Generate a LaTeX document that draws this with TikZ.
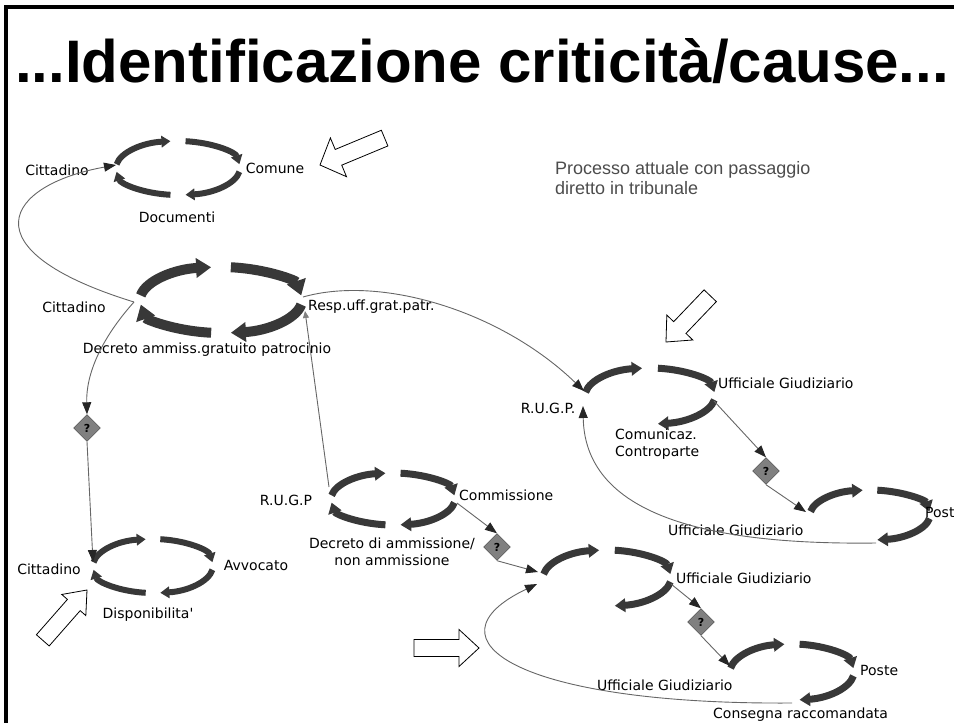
\documentclass[tikz,border=0pt]{standalone}
\usepackage{fontspec}
\setmainfont{DejaVu Sans}
\newfontfamily\titlefont{Liberation Sans}
\usetikzlibrary{positioning,arrows.meta,shapes.geometric,calc}

\begin{document}
\begin{tikzpicture}[
    x=1pt, y=1pt,
    font=\fontsize{14}{17}\selectfont,
    lab/.style={inner sep=0pt},
    cyc/.style={
        line width=#1pt,
        draw=black!78,
        -{Triangle[length=0pt 1.5, width=0pt 1.9]}
    },
    link/.style={
        draw=black!60,
        line width=0.9pt,
        -{Triangle[length=12pt, width=9pt, color=black!85]}
    },
    qbox/.style={
        diamond,
        draw=black!75,
        fill=black!50,
        minimum size=27pt,
        inner sep=0pt,
        font=\fontsize{11}{11}\selectfont\bfseries
    },
    hollow/.style={draw=black, fill=white, line width=0.8pt}
]
\useasboundingbox (0,0) rectangle (954,-723);

% frame and title
\draw[line width=3.5pt] (6,-723) -- (6,-7) -- (954,-7);
\node[lab, anchor=base west, font=\titlefont\bfseries\fontsize{60}{60}\selectfont] (title) at (15,-82)
    {...Identificazione criticità/cause...};
\node[lab, anchor=west, align=left, text=black!70, font=\titlefont\fontsize{18}{20}\selectfont] (proc) at (555,-178)
    {Processo attuale con passaggio\\diretto in tribunale};

% cycle centres
\coordinate (cycA) at (178,-168);
\coordinate (cycB) at (221,-300);
\coordinate (cycC) at (153,-566);
\coordinate (cycR) at (393,-499);
\coordinate (cycD) at (650,-396);
\coordinate (cycF) at (870,-515);
\coordinate (cycE) at (607,-578);
\coordinate (cycG) at (792,-672);

% full cycles
\foreach \c/\rx/\ry/\lw in {cycA/62/27/6, cycB/81/33/10, cycC/60/27/6, cycR/62/26/7}
  \foreach \a/\b in {172/97, 83/8, -8/-83, 263/188}
    \draw[cyc=\lw] ($(\c)+({\rx*cos(\a)},{\ry*sin(\a)})$)
        arc[start angle=\a, end angle=\b, x radius=\rx, y radius=\ry];

% open cycles
\foreach \c/\rx/\ry/\lw in {cycD/65/28/7, cycF/60/25/7, cycE/64/28/7, cycG/62/28/7}
  \foreach \a/\b in {172/97, 83/8, -8/-83}
    \draw[cyc=\lw] ($(\c)+({\rx*cos(\a)},{\ry*sin(\a)})$)
        arc[start angle=\a, end angle=\b, x radius=\rx, y radius=\ry];

% labels
\node[lab] (citA) at (57,-170) {Cittadino};
\node[lab] (comune) at (275,-168) {Comune};
\node[lab] (docum) at (177,-217) {Documenti};
\node[lab] (citB) at (74,-307) {Cittadino};
\node[lab, anchor=west] (resp) at (308,-307) {Resp.uff.grat.patr.};
\node[lab] (decrAm) at (207,-350) {Decreto ammiss.gratuito patrocinio};
\node[lab] (citC) at (49,-569) {Cittadino};
\node[lab] (avv) at (256,-565) {Avvocato};
\node[lab] (disp) at (148,-615) {Disponibilita\textquotesingle};
\node[lab] (rugpR) at (286,-500) {R.U.G.P};
\node[lab, anchor=west] (comm) at (459,-495) {Commissione};
\node[lab, align=center] (decrCo) at (392,-552) {Decreto di ammissione/\\non ammissione};
\node[lab] (rugpD) at (548,-408) {R.U.G.P.};
\node[lab, anchor=west] (ufD) at (718,-383) {Ufficiale Giudiziario};
\node[lab, anchor=north west, align=left] (comD) at (615,-429) {Comunicaz.\\Controparte};
\node[lab, anchor=west] (ufF) at (668,-530) {Ufficiale Giudiziario};
\node[lab, anchor=west] (posteF) at (925,-512) {Poste};
\node[lab, anchor=west] (ufE) at (676,-578) {Ufficiale Giudiziario};
\node[lab, anchor=west] (ufG) at (597,-685) {Ufficiale Giudiziario};
\node[lab, anchor=west] (posteG) at (860,-670) {Poste};
\node[lab, anchor=west] (consG) at (713,-715) {Consegna raccomandata};

% decisions
\node[qbox] (q1) at (87,-428) {?};
\node[qbox] (q2) at (497,-547) {?};
\node[qbox] (q3) at (766,-471) {?};
\node[qbox] (q4) at (701,-622) {?};

% attach points on the cycles
\coordinate (docIn) at (116,-165);
\coordinate (decrL) at (134,-302);
\coordinate (decrR) at (303,-297);
\coordinate (decrRb) at (305,-311);
\coordinate (dispIn) at (93,-562);
\coordinate (rugpIn) at (329,-487);
\coordinate (commOut) at (457,-503);
\coordinate (rugpDIn) at (584,-391);
\coordinate (rugpDUp) at (583,-406);
\coordinate (ugDOut) at (714,-401);
\coordinate (posteFIn) at (806,-512);
\coordinate (posteFOut) at (876,-543);
\coordinate (ugEIn) at (538,-572);
\coordinate (ugEUp) at (537,-584);
\coordinate (ugEOut) at (671,-584);
\coordinate (posteGIn) at (730,-666);
\coordinate (posteGOut) at (792,-703);

% connectors
\draw[link] (decrL) .. controls (-35,-250) and (5,-185) .. (docIn);
\draw[link] (decrL) .. controls (100,-340) and (86,-375) .. (q1.north);
\draw[link] (q1.south) -- (dispIn);
\draw[link] (decrR) .. controls (380,-275) and (500,-310) .. (rugpDIn);
\draw[link, {Triangle[length=7pt, width=6pt, color=black!50]}-] (decrRb) -- (rugpIn);
\draw[link] (commOut) -- (q2.north);
\draw[link] (q2.south) -- (ugEIn);
\draw[link] (ugDOut) -- (q3.north);
\draw[link] (q3.south) -- (posteFIn);
\draw[link] (posteFOut) .. controls (720,-545) and (585,-520) .. (rugpDUp);
\draw[link] (ugEOut) -- (q4.north);
\draw[link] (q4.south) -- (posteGIn);
\draw[link] (posteGOut) .. controls (520,-705) and (420,-640) .. (ugEUp);

% hollow pointers
\foreach \x/\y/\r/\l/\h in {320/165/202.6/70/21, 666/342/226.3/64/18, 87/590/48.7/67/16, 479/648/0/65/18.5}
  \draw[hollow, shift={(\x,-\y)}, rotate=\r]
    (0,0) -- (-20,\h) -- (-20,8.5) -- (-\l,8.5) -- (-\l,-8.5) -- (-20,-8.5) -- (-20,-\h) -- cycle;
\end{tikzpicture}
\end{document}
